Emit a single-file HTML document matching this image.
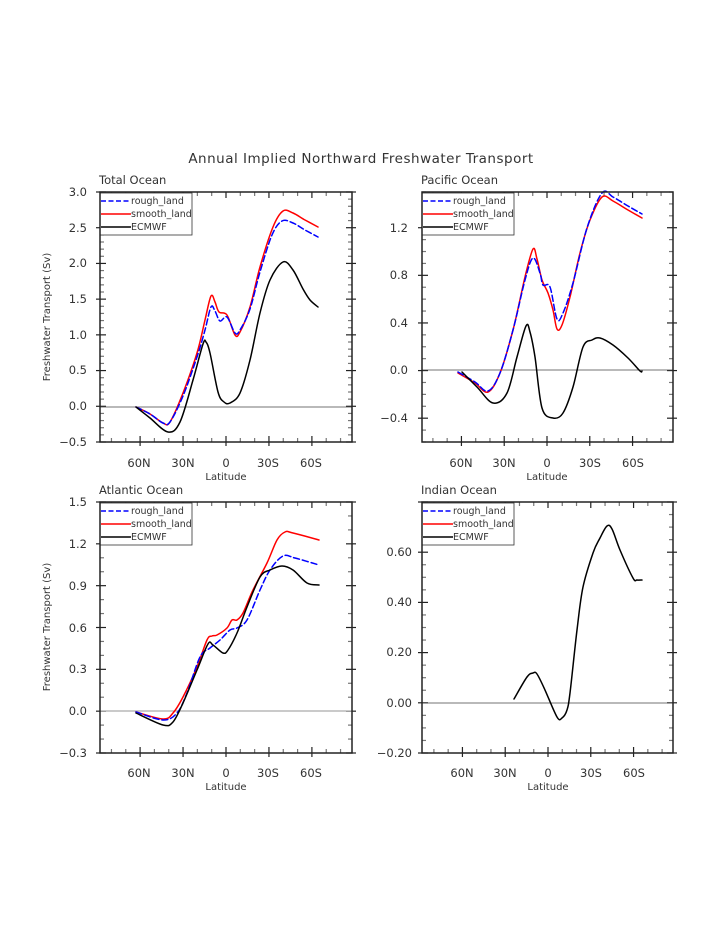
<!DOCTYPE html>
<html><head><meta charset="utf-8"><style>
body{margin:0;background:#fff}
svg text{font-family:"DejaVu Sans","Liberation Sans",sans-serif;fill:#333}
</style></head><body>
<svg id="s" width="723" height="935" viewBox="0 0 723 935" xmlns="http://www.w3.org/2000/svg">
<rect width="723" height="935" fill="#fff"/>
<text x="361" y="163" font-size="13.5" text-anchor="middle" letter-spacing="0.5">Annual Implied Northward Freshwater Transport</text>

<text x="99" y="184" font-size="11.5">Total Ocean</text>
<text x="421" y="184" font-size="11.5">Pacific Ocean</text>
<text x="99" y="494" font-size="11.5">Atlantic Ocean</text>
<text x="421" y="494" font-size="11.5">Indian Ocean</text>

<g font-size="11.5" text-anchor="end">
<text x="87" y="196">3.0</text><text x="87" y="232">2.5</text><text x="87" y="267">2.0</text><text x="87" y="303">1.5</text><text x="87" y="339">1.0</text><text x="87" y="374">0.5</text><text x="87" y="410">0.0</text><text x="87" y="446">−0.5</text>
<text x="408" y="232">1.2</text><text x="408" y="279">0.8</text><text x="408" y="327">0.4</text><text x="408" y="374">0.0</text><text x="408" y="422">−0.4</text>
<text x="87" y="506">1.5</text><text x="87" y="548">1.2</text><text x="87" y="590">0.9</text><text x="87" y="632">0.6</text><text x="87" y="673">0.3</text><text x="87" y="715">0.0</text><text x="87" y="757">−0.3</text>
<text x="412" y="556">0.60</text><text x="412" y="606">0.40</text><text x="412" y="656">0.20</text><text x="412" y="707">0.00</text><text x="412" y="757">−0.20</text>
</g>
<g font-size="11.5" text-anchor="middle">
<text x="139" y="467">60N</text><text x="183" y="467">30N</text><text x="226" y="467">0</text><text x="268" y="467">30S</text><text x="311" y="467">60S</text>
<text x="461" y="467">60N</text><text x="504" y="467">30N</text><text x="547" y="467">0</text><text x="590" y="467">30S</text><text x="633" y="467">60S</text>
<text x="139" y="777">60N</text><text x="183" y="777">30N</text><text x="226" y="777">0</text><text x="268" y="777">30S</text><text x="311" y="777">60S</text>
<text x="462" y="777">60N</text><text x="505" y="777">30N</text><text x="548" y="777">0</text><text x="591" y="777">30S</text><text x="634" y="777">60S</text>
</g>
<g font-size="10" text-anchor="middle">
<text x="226" y="480">Latitude</text><text x="547" y="480">Latitude</text>
<text x="226" y="790">Latitude</text><text x="548" y="790">Latitude</text>
<text transform="translate(50,317) rotate(-90)">Freshwater Transport (Sv)</text>
<text transform="translate(50,627) rotate(-90)">Freshwater Transport (Sv)</text>
</g>
<g id="ticks"></g>

<g stroke="#444" stroke-width="0.8">
<line x1="100" y1="407" x2="352" y2="407"/>
<line x1="422" y1="370" x2="673" y2="370"/>
<line x1="100" y1="711" x2="352" y2="711" stroke="#aaa" stroke-width="1.2"/>
<line x1="422" y1="703" x2="673" y2="703"/>
</g>

<g id="curves" fill="none" stroke-width="1.5" stroke-linejoin="round" stroke-linecap="round">
<polyline stroke="#f00" points="136,407 150,414 163,423 170,422 183,393 197,353 205,320 211,296 215,302 219,312 227,315 235,335 240,332 250,307 260,267 273,227 283,211 293,213 305,220 318,227"/>
<polyline stroke="#00f" stroke-dasharray="6,3" points="136,407 150,414 163,423 170,422 183,396 197,357 205,330 211,307 215,311 220,321 227,317 235,333 240,330 250,309 260,272 272,235 282,221 293,223 305,230 318,237"/>
<polyline stroke="#000" points="136,407 150,418 168,432 180,422 193,380 203,344 206,342 210,353 218,392 224,402 230,403 240,393 250,360 260,313 270,280 283,262 293,270 303,289 310,300 318,307"/>
<polyline stroke="#f00" points="458,373 475,383 488,392 500,373 513,330 525,277 533,249 537,259 542,280 548,293 553,310 557,329 562,325 570,297 580,253 590,220 602,197 613,201 628,210 642,218"/>
<polyline stroke="#00f" stroke-dasharray="6,3" points="458,372 475,382 488,391 500,373 513,330 525,280 533,258 540,273 543,285 550,287 557,319 563,313 573,283 587,228 602,193 613,197 628,206 642,214"/>
<polyline stroke="#000" points="462,372 477,387 493,403 507,393 517,357 526,326 530,332 535,357 542,408 553,418 563,413 573,387 583,347 592,340 600,338 613,345 628,358 640,371 642,371"/>
<polyline stroke="#f00" points="136,712 163,719 173,713 183,697 197,667 207,640 212,636 217,635 227,628 232,620 237,620 243,613 253,590 267,563 277,540 285,532 293,533 319,540"/>
<polyline stroke="#00f" stroke-dasharray="6,3" points="136,712 163,720 177,713 187,693 200,657 210,648 220,640 230,630 237,628 247,620 260,590 270,570 283,556 295,558 319,565"/>
<polyline stroke="#000" points="136,713 163,725 173,722 183,703 197,670 208,644 213,645 223,653 228,650 237,633 247,607 260,577 270,570 282,566 293,570 307,583 319,585"/>
<polyline stroke="#000" points="514,699 527,677 533,673 537,674 545,690 557,717 562,718 567,710 570,693 577,630 583,587 593,553 600,538 607,526 612,529 620,550 633,578 637,580 642,580"/>
</g>

<g font-size="9.5">
<g transform="translate(100,193)"><rect width="92" height="42" fill="#fff" stroke="#333" stroke-width="0.8"/>
<line x1="1" y1="8" x2="31" y2="8" stroke="#00f" stroke-width="1.5" stroke-dasharray="5,2.5"/><text x="31" y="11">rough_land</text>
<line x1="1" y1="21" x2="31" y2="21" stroke="#f00" stroke-width="1.5"/><text x="31" y="24">smooth_land</text>
<line x1="1" y1="34" x2="31" y2="34" stroke="#000" stroke-width="1.5"/><text x="31" y="37">ECMWF</text></g>
<g transform="translate(422,193)"><rect width="92" height="42" fill="#fff" stroke="#333" stroke-width="0.8"/>
<line x1="1" y1="8" x2="31" y2="8" stroke="#00f" stroke-width="1.5" stroke-dasharray="5,2.5"/><text x="31" y="11">rough_land</text>
<line x1="1" y1="21" x2="31" y2="21" stroke="#f00" stroke-width="1.5"/><text x="31" y="24">smooth_land</text>
<line x1="1" y1="34" x2="31" y2="34" stroke="#000" stroke-width="1.5"/><text x="31" y="37">ECMWF</text></g>
<g transform="translate(100,503)"><rect width="92" height="42" fill="#fff" stroke="#333" stroke-width="0.8"/>
<line x1="1" y1="8" x2="31" y2="8" stroke="#00f" stroke-width="1.5" stroke-dasharray="5,2.5"/><text x="31" y="11">rough_land</text>
<line x1="1" y1="21" x2="31" y2="21" stroke="#f00" stroke-width="1.5"/><text x="31" y="24">smooth_land</text>
<line x1="1" y1="34" x2="31" y2="34" stroke="#000" stroke-width="1.5"/><text x="31" y="37">ECMWF</text></g>
<g transform="translate(422,503)"><rect width="92" height="42" fill="#fff" stroke="#333" stroke-width="0.8"/>
<line x1="1" y1="8" x2="31" y2="8" stroke="#00f" stroke-width="1.5" stroke-dasharray="5,2.5"/><text x="31" y="11">rough_land</text>
<line x1="1" y1="21" x2="31" y2="21" stroke="#f00" stroke-width="1.5"/><text x="31" y="24">smooth_land</text>
<line x1="1" y1="34" x2="31" y2="34" stroke="#000" stroke-width="1.5"/><text x="31" y="37">ECMWF</text></g>
</g>

<g fill="none" stroke="#222" stroke-width="1.5">
<rect x="100" y="192" width="252" height="250"/>
<rect x="422" y="192" width="251" height="250"/>
<rect x="100" y="502" width="252" height="251"/>
<rect x="422" y="502" width="251" height="251"/>
</g>
</svg>
<script>
(function(){
var g=document.getElementById('ticks'),h='';
function L(x1,y1,x2,y2,c,w){h+='<line x1="'+x1+'" y1="'+y1+'" x2="'+x2+'" y2="'+y2+'" stroke="'+c+'" stroke-width="'+w+'"/>';}
var P=[[100,352,192,442,226,-0.5,3.0,0.5,0.1],[422,673,192,442,547,-0.6,1.5,0.4,0.1],[100,352,502,753,226,-0.3,1.5,0.3,0.1],[422,673,502,753,548,-0.2,0.8,0.2,0.05]];
P.forEach(function(p){
var x0=p[0],x1=p[1],y0=p[2],y1=p[3],xc=p[4],lo=p[5],hi=p[6],mj=p[7],mn=p[8];
var sx=(x1-x0)/176;
for(var d=-80;d<=80;d+=10){var x=xc+d*sx;var maj=(d%30==0&&Math.abs(d)<=60);
var len=maj?6:4,c=maj?'#222':'#777';L(x,y1,x,y1-len,c,1.2);L(x,y0,x,y0+len,c,1.2);if(maj){L(x,y1,x,y1+4,c,1.2);}}
var n=Math.round((hi-lo)/mn);
for(var i=0;i<=n;i++){var v=lo+i*mn;var y=y1-(v-lo)/(hi-lo)*(y1-y0);
var r=Math.abs(v/mj-Math.round(v/mj))<1e-6;var len=r?6:4,c=r?'#222':'#777';
L(x0,y,x0+len,y,c,1.2);L(x1,y,x1-len,y,c,1.2);if(r){L(x0,y,x0-4,y,c,1.2);L(x1,y,x1+4,y,c,1.2);}}
});
g.innerHTML=h;
// smooth polylines with Catmull-Rom
var ns='http://www.w3.org/2000/svg';
var pls=document.querySelectorAll('#curves polyline');
for(var k=0;k<pls.length;k++){var pl=pls[k];
var pts=pl.getAttribute('points').trim().split(/\s+/).map(function(s){return s.split(',').map(Number);});
var d='M'+pts[0][0]+','+pts[0][1];
for(var i=0;i<pts.length-1;i++){var p0=pts[i-1]||pts[i],p1=pts[i],p2=pts[i+1],p3=pts[i+2]||p2;
var c1x=p1[0]+(p2[0]-p0[0])/6,c1y=p1[1]+(p2[1]-p0[1])/6,c2x=p2[0]-(p3[0]-p1[0])/6,c2y=p2[1]-(p3[1]-p1[1])/6;
d+=' C'+c1x.toFixed(1)+','+c1y.toFixed(1)+' '+c2x.toFixed(1)+','+c2y.toFixed(1)+' '+p2[0]+','+p2[1];}
var path=document.createElementNS(ns,'path');path.setAttribute('d',d);
['stroke','stroke-dasharray'].forEach(function(a){if(pl.getAttribute(a))path.setAttribute(a,pl.getAttribute(a));});
pl.parentNode.replaceChild(path,pl);}
})();
</script>
</body></html>
